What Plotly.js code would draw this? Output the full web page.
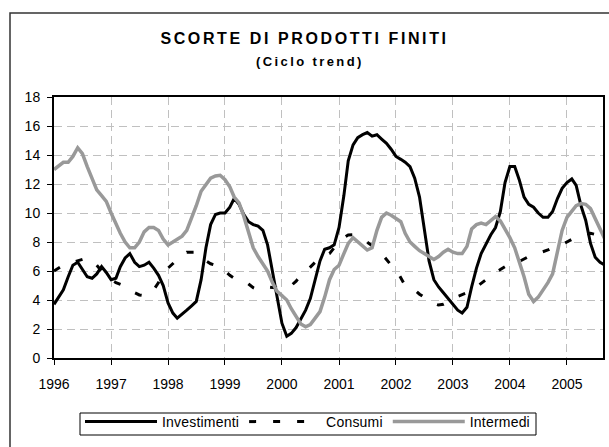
<!DOCTYPE html>
<html>
<head>
<meta charset="utf-8">
<script src="https://cdn.plot.ly/plotly-3.0.1.min.js"></script>
<style>
  html, body { margin: 0; padding: 0; background: #fff; }
  #chart { width: 609px; height: 447px; }
  .gtitle { letter-spacing: 2.6px; }
  .annotation-text { letter-spacing: 2.4px; }
  .legendtext { letter-spacing: 0.2px; }
</style>
</head>
<body>
<div id="chart"></div>
<script>
// Monthly series, January 1996 onwards
var startYear = 1996;
var seriesNames = ["Investimenti", "Consumi", "Intermedi"];
var yearTicks = ["1996", "1997", "1998", "1999", "2000", "2001", "2002", "2003", "2004", "2005"];

var investimenti = [
  3.7, 4.2, 4.7, 5.6, 6.4, 6.6, 6.1, 5.6, 5.5, 5.8, 6.3, 5.9,
  5.4, 5.5, 6.3, 6.9, 7.2, 6.6, 6.3, 6.4, 6.6, 6.2, 5.7, 5.0,
  3.8, 3.1, 2.75, 3.0, 3.3, 3.6, 3.9, 5.4, 7.6, 9.2, 9.9, 10.0,
  10.0, 10.4, 11.0, 10.6, 9.9, 9.4, 9.2, 9.1, 8.8, 7.8, 5.9, 4.2,
  2.4, 1.5, 1.7, 2.1, 2.7, 3.3, 4.1, 5.4, 6.7, 7.5, 7.6, 7.8,
  9.0, 11.2, 13.6, 14.7, 15.2, 15.4, 15.55, 15.3, 15.4, 15.1, 14.8, 14.4,
  13.9, 13.7, 13.5, 13.2, 12.4, 11.1, 8.9, 6.7, 5.4, 4.9, 4.5, 4.1,
  3.7, 3.3, 3.1, 3.5, 4.9, 6.2, 7.2, 7.9, 8.5, 9.0, 10.1, 12.1,
  13.2, 13.2, 12.3, 11.1, 10.6, 10.4, 10.0, 9.7, 9.7, 10.1, 11.0, 11.7,
  12.1, 12.35, 11.9, 10.5, 9.5, 7.9, 6.95, 6.6, 6.4
];

var consumi = [
  6.0, 6.2, 6.4, 6.5, 6.6, 6.65, 6.75, 6.9, 6.7, 6.4, 6.0, 5.7,
  5.4, 5.2, 5.1, 4.95, 4.75, 4.5, 4.35, 4.3, 4.35, 4.7, 5.2, 5.8,
  6.2, 6.5, 6.8, 7.1, 7.3, 7.3, 7.3, 7.0, 6.7, 6.5, 6.4, 6.3,
  6.0, 5.7, 5.5, 5.4, 5.35, 5.1, 4.85, 4.7, 4.85, 4.9, 4.85, 4.85,
  4.8, 4.8, 5.0, 5.3, 5.7, 5.95, 6.3, 6.6, 6.85, 7.05, 7.2, 7.6,
  8.0, 8.3, 8.48, 8.5, 8.4, 8.2, 7.95, 7.75, 7.6, 7.2, 6.8, 6.4,
  6.1, 5.5, 5.0, 4.8, 4.7, 4.4, 4.2, 4.0, 3.75, 3.65, 3.7, 3.85,
  4.1, 4.25, 4.35, 4.5, 4.65, 4.9, 5.15, 5.45, 5.7, 5.9, 6.1, 6.3,
  6.4, 6.5, 6.65, 6.85, 7.0, 7.1, 7.2, 7.3, 7.45, 7.6, 7.7, 7.85,
  8.0, 8.2, 8.35, 8.45, 8.55, 8.6, 8.5, 8.45, 8.4
];

var intermedi = [
  13.0, 13.3, 13.5, 13.5, 13.9, 14.5, 14.1, 13.2, 12.4, 11.6, 11.2, 10.8,
  10.0, 9.2, 8.6, 8.0, 7.6, 7.6, 8.0, 8.7, 9.0, 9.0, 8.8, 8.2,
  7.8, 8.0, 8.2, 8.4, 8.8, 9.6, 10.5, 11.5, 12.0, 12.4, 12.55, 12.6,
  12.3, 11.8, 11.1, 10.7, 9.8, 8.6, 7.6, 7.0, 6.5, 6.0, 5.2, 4.6,
  4.3, 4.0, 3.4, 2.9, 2.35, 2.15, 2.3, 2.75, 3.2, 4.2, 5.4, 6.1,
  6.4, 7.2, 7.9, 8.3, 8.0, 7.7, 7.45, 7.6, 8.8, 9.7, 10.0, 9.85,
  9.6, 9.4, 8.6, 8.0, 7.7, 7.4, 7.2, 7.0, 6.8, 7.0, 7.3, 7.5,
  7.3, 7.2, 7.2, 7.7, 8.9, 9.2, 9.3, 9.2, 9.5, 9.75, 9.45, 8.9,
  8.3, 7.6, 6.7, 5.6, 4.4, 3.9, 4.2, 4.7, 5.2, 5.8, 7.3, 8.8,
  9.7, 10.1, 10.5, 10.65, 10.6, 10.3, 9.6, 8.8, 8.2
];

var titleText = "SCORTE DI PRODOTTI FINITI";
var subtitleText = "(Ciclo trend)";

function monthDates(n) {
  var out = [];
  for (var i = 0; i < n; i++) {
    var y = startYear + Math.floor(i / 12);
    var m = (i % 12) + 1;
    out.push(y + "-" + (m < 10 ? "0" + m : m) + "-01");
  }
  return out;
}
var months = monthDates(investimenti.length);
var tickVals = yearTicks.map(function (y) { return y + "-01-01"; });

var FONT = 'Arial, "Liberation Sans", sans-serif';

// pixel helpers for paper coordinates (plot area 54..603 x, 97..358 y)
function px(x) { return (x - 54) / 549; }
function py(y) { return (358 - y) / 261; }

var traces = [
  { x: months, y: investimenti, name: seriesNames[0], type: "scatter", mode: "lines",
    line: { color: "#000000", width: 3 } },
  { x: months, y: consumi, name: seriesNames[1], type: "scatter", mode: "lines",
    line: { color: "#000000", width: 3, dash: "7px,17px" } },
  { x: months, y: intermedi, name: seriesNames[2], type: "scatter", mode: "lines",
    line: { color: "#999999", width: 3.5 } }
];

var layout = {
  width: 609, height: 447,
  margin: { l: 54, r: 6, t: 97, b: 89 },
  paper_bgcolor: "#ffffff", plot_bgcolor: "#ffffff",
  font: { family: FONT, size: 14, color: "#000000" },
  showlegend: true,
  title: {
    text: "<b>" + titleText + "</b>",
    font: { family: FONT, size: 16, color: "#000000" },
    x: 0.5, xref: "container", xanchor: "center",
    y: 1 - 33 / 447, yref: "container", yanchor: "top"
  },
  annotations: [{
    text: "<b>" + subtitleText + "</b>",
    xref: "paper", yref: "paper", x: px(310), y: py(62),
    xanchor: "center", yanchor: "middle", showarrow: false,
    font: { family: FONT, size: 13, color: "#000000" }
  }],
  xaxis: {
    type: "date",
    range: ["1996-01-01", "2005-08-20"],
    tickvals: tickVals, ticktext: yearTicks,
    showgrid: true, gridcolor: "#c0c0c0", gridwidth: 1, griddash: "8px,5px",
    showline: true, linecolor: "#000000", linewidth: 2, mirror: true,
    ticks: "outside", ticklen: 5, tickwidth: 1, tickcolor: "#000000",
    ticklabelstandoff: 7,
    tickfont: { family: FONT, size: 14, color: "#000000" },
    zeroline: false, fixedrange: true
  },
  yaxis: {
    range: [0, 18], tick0: 0, dtick: 2,
    showgrid: true, gridcolor: "#c0c0c0", gridwidth: 1, griddash: "8px,5px",
    showline: true, linecolor: "#000000", linewidth: 2, mirror: true,
    ticks: "outside", ticklen: 5, tickwidth: 1, tickcolor: "#000000",
    ticklabelstandoff: 4,
    tickfont: { family: FONT, size: 14, color: "#000000" },
    zeroline: false, fixedrange: true
  },
  legend: {
    orientation: "h",
    x: px(80), xanchor: "left",
    y: py(406), yanchor: "top",
    borderwidth: 0, bgcolor: "rgba(0,0,0,0)",
    font: { family: FONT, size: 14, color: "#000000" },
    itemwidth: 72,
    traceorder: "normal"
  },
  shapes: [
    { // outer chart frame
      type: "rect", xref: "paper", yref: "paper", layer: "below",
      x0: px(10), x1: px(615), y0: py(455), y1: py(13),
      line: { color: "#333333", width: 1.5 }, fillcolor: "rgba(0,0,0,0)"
    },
    { // legend frame
      type: "rect", xref: "paper", yref: "paper", layer: "below",
      x0: px(80), x1: px(536), y0: py(435), y1: py(413),
      line: { color: "#000000", width: 1 }, fillcolor: "#ffffff"
    }
  ]
};

Plotly.newPlot("chart", traces, layout, { staticPlot: true, displayModeBar: false });
</script>
</body>
</html>
